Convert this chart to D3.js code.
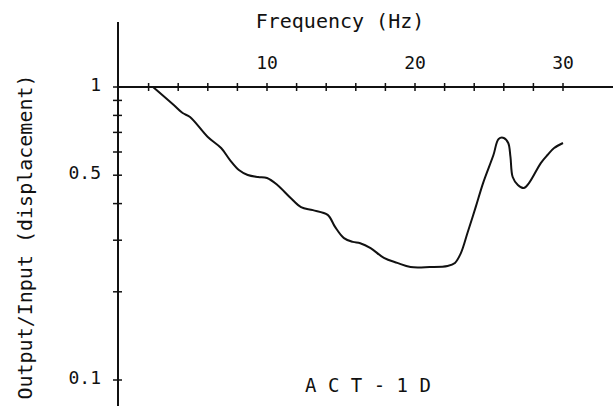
<!DOCTYPE html>
<html>
<head>
<meta charset="utf-8">
<script src="https://cdn.jsdelivr.net/npm/d3@7"></script>
<style>
  body { margin: 0; background: #fff; }
  svg { display: block; }
  text { font-family: "DejaVu Sans Mono", monospace; fill: #111; }
</style>
</head>
<body>
<div id="chart"></div>
<script>
// Frequency (Hz)
var freq = [2.3, 3.7, 4.3, 4.8, 6.0, 6.9, 7.5, 8.1, 8.7, 9.4, 10.0, 10.7, 11.6, 12.3,
    13.1, 14.1, 14.6, 15.2, 15.8, 16.3, 17.0, 17.9, 18.8, 19.7, 21.0, 22.2, 22.7,
    23.1, 23.55, 24.1, 24.6, 25.3, 25.65, 26.0, 26.3, 26.45, 26.6, 26.95, 27.35,
    27.7, 28.5, 28.95, 29.4, 30.0];

// Output/Input ratio (displacement)
var ratio = [1.0, 0.868, 0.815, 0.79, 0.675, 0.619, 0.563, 0.521, 0.501, 0.493, 0.489,
    0.463, 0.418, 0.389, 0.38, 0.366, 0.333, 0.305, 0.296, 0.293, 0.282, 0.261, 0.251,
    0.243, 0.243, 0.245, 0.251, 0.271, 0.318, 0.389, 0.47, 0.586, 0.665, 0.67, 0.644,
    0.577, 0.493, 0.463, 0.452, 0.47, 0.55, 0.586, 0.619, 0.644];

// tick marks and labels
var x_ticks = [2, 4, 6, 8, 10, 12, 14, 16, 18, 20, 22, 24, 26, 28, 30];
var x_labels = [10, 20, 30];
var y_ticks = [1, 0.9, 0.8, 0.7, 0.6, 0.5, 0.4, 0.3, 0.2, 0.1];
var y_labels = [1, 0.5, 0.1];

var width = 613,
    height = 406;

//Scales - x linear in Hz, y log
var x = d3.scaleLinear().domain([0, 30]).range([119, 563]);
var y = d3.scaleLog().domain([0.1, 1]).range([380, 87]);

var svg = d3.select("#chart").append("svg")
    .attr("width", width)
    .attr("height", height);

//Axis lines
var axis_x = x(0) - 1;
svg.append("line")
    .attr("x1", axis_x).attr("x2", axis_x)
    .attr("y1", 22).attr("y2", height)
    .attr("stroke", "#111").attr("stroke-width", 2);

svg.append("line")
    .attr("x1", axis_x).attr("x2", width)
    .attr("y1", y(1)).attr("y2", y(1))
    .attr("stroke", "#111").attr("stroke-width", 2);

//X ticks cross the line at value 1
svg.selectAll(".xtick")
    .data(x_ticks)
    .enter().append("line")
    .attr("class", "xtick")
    .attr("x1", function(d) { return x(d); })
    .attr("x2", function(d) { return x(d); })
    .attr("y1", y(1) - 4)
    .attr("y2", y(1) + 4)
    .attr("stroke", "#111").attr("stroke-width", 1.5);

svg.selectAll(".xlabel")
    .data(x_labels)
    .enter().append("text")
    .attr("class", "xlabel")
    .attr("x", function(d) { return x(d); })
    .attr("y", 69)
    .attr("text-anchor", "middle")
    .style("font-size", "18px")
    .text(function(d) { return d; });

//Y ticks
svg.selectAll(".ytick")
    .data(y_ticks)
    .enter().append("line")
    .attr("class", "ytick")
    .attr("x1", axis_x - 5)
    .attr("x2", axis_x + 4)
    .attr("y1", function(d) { return y(d); })
    .attr("y2", function(d) { return y(d); })
    .attr("stroke", "#111").attr("stroke-width", 1.5);

svg.selectAll(".ylabel")
    .data(y_labels)
    .enter().append("text")
    .attr("class", "ylabel")
    .attr("x", 101)
    .attr("y", function(d) { return y(d); })
    .attr("dy", "0.2em")
    .attr("text-anchor", "end")
    .style("font-size", "18px")
    .text(function(d) { return d; });

//The response curve
var line = d3.line()
    .x(function(d, i) { return x(freq[i]); })
    .y(function(d) { return y(d); })
    .curve(d3.curveCatmullRom.alpha(0.5));

svg.append("path")
    .datum(ratio)
    .attr("d", line)
    .attr("fill", "none")
    .attr("stroke", "#111")
    .attr("stroke-width", 2);

//Titles
svg.append("text")
    .attr("x", 340)
    .attr("y", 28)
    .attr("text-anchor", "middle")
    .style("font-size", "20px")
    .text("Frequency (Hz)");

svg.append("text")
    .attr("transform", "translate(32,237) rotate(-90)")
    .attr("text-anchor", "middle")
    .style("font-size", "20px")
    .text("Output/Input (displacement)");

svg.append("text")
    .attr("x", 368)
    .attr("y", 392)
    .attr("text-anchor", "middle")
    .style("font-size", "19px")
    .text("A C T - 1 D");
</script>
</body>
</html>
